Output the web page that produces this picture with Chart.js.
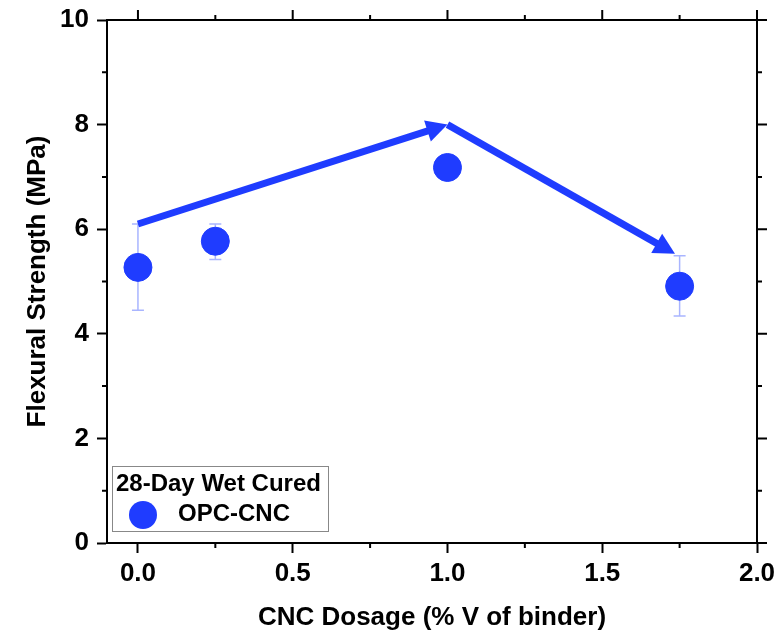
<!DOCTYPE html>
<html>
<head>
<meta charset="utf-8">
<script src="https://cdn.jsdelivr.net/npm/chart.js@4.4.1/dist/chart.umd.min.js"></script>
<style>
  html, body { margin: 0; padding: 0; background: #fff; }
  #wrap { width: 779px; height: 635px; }
</style>
</head>
<body>
<div id="wrap"><canvas id="flex-chart"></canvas></div>
<script>
// data
const dosage = [0, 0.25, 1.0, 1.75];
const strength = [5.27, 5.77, 7.18, 4.91];
const errLow = [4.45, 5.42, 7.10, 4.34];
const errHigh = [6.10, 6.10, 7.26, 5.49];
// trend arrows (start -> peak -> end)
const trendX = [0, 1.0, 1.735];
const trendY = [6.1, 8.0, 5.53];
const xMinor = [0.25, 0.75, 1.25, 1.75];
const yMinor = [1, 3, 5, 7, 9];
const xMajor = [0, 0.5, 1.0, 1.5, 2.0];
const yMajor = [0, 2, 4, 6, 8, 10];

const BLUE = "#1f3cff";
const ERR = "#a9b5ff";
const FONT = "'Liberation Sans', Arial, sans-serif";

// keep the plot area fixed, ignore label overflow
const noPad = (s) => {
  s.paddingTop = 0; s.paddingBottom = 0;
  s.paddingLeft = 0; s.paddingRight = 0;
};

const decor = {
  id: "decor",
  beforeDatasetsDraw(chart) {
    const { ctx, chartArea: a, scales: { x, y } } = chart;
    ctx.save();
    // frame top/right
    ctx.strokeStyle = "#000";
    ctx.lineWidth = 2;
    ctx.beginPath();
    ctx.moveTo(a.left - 1, a.top);
    ctx.lineTo(a.right, a.top);
    ctx.lineTo(a.right, a.bottom + 1);
    ctx.stroke();
    // ticks on top/right, minor ticks everywhere
    ctx.beginPath();
    xMajor.forEach((v) => {
      const px = x.getPixelForValue(v);
      ctx.moveTo(px, a.top); ctx.lineTo(px, a.top - 10);
    });
    yMajor.forEach((v) => {
      const py = y.getPixelForValue(v);
      ctx.moveTo(a.right, py); ctx.lineTo(a.right + 10, py);
    });
    xMinor.forEach((v) => {
      const px = x.getPixelForValue(v);
      ctx.moveTo(px, a.top); ctx.lineTo(px, a.top - 5);
      ctx.moveTo(px, a.bottom); ctx.lineTo(px, a.bottom + 5);
    });
    yMinor.forEach((v) => {
      const py = y.getPixelForValue(v);
      ctx.moveTo(a.left, py); ctx.lineTo(a.left - 5, py);
      ctx.moveTo(a.right, py); ctx.lineTo(a.right + 5, py);
    });
    ctx.stroke();

    // error bars
    ctx.strokeStyle = ERR;
    ctx.lineWidth = 1.5;
    ctx.beginPath();
    dosage.forEach((d, i) => {
      const px = x.getPixelForValue(d);
      const lo = y.getPixelForValue(errLow[i]);
      const hi = y.getPixelForValue(errHigh[i]);
      ctx.moveTo(px, lo); ctx.lineTo(px, hi);
      ctx.moveTo(px - 6, lo); ctx.lineTo(px + 6, lo);
      ctx.moveTo(px - 6, hi); ctx.lineTo(px + 6, hi);
    });
    ctx.stroke();

    // arrows
    ctx.fillStyle = BLUE;
    ctx.strokeStyle = BLUE;
    ctx.lineWidth = 7;
    for (let i = 0; i < trendX.length - 1; i++) {
      const x0 = x.getPixelForValue(trendX[i]), y0 = y.getPixelForValue(trendY[i]);
      const x1 = x.getPixelForValue(trendX[i + 1]), y1 = y.getPixelForValue(trendY[i + 1]);
      const ang = Math.atan2(y1 - y0, x1 - x0);
      const hl = 21, hw = 11;
      const bx = x1 - hl * Math.cos(ang), by = y1 - hl * Math.sin(ang);
      ctx.beginPath();
      ctx.moveTo(x0, y0);
      ctx.lineTo(bx + 2 * Math.cos(ang), by + 2 * Math.sin(ang));
      ctx.stroke();
      ctx.beginPath();
      ctx.moveTo(x1, y1);
      ctx.lineTo(bx - hw * Math.sin(ang), by + hw * Math.cos(ang));
      ctx.lineTo(bx + hw * Math.sin(ang), by - hw * Math.cos(ang));
      ctx.closePath();
      ctx.fill();
    }
    ctx.restore();
  },
  afterDraw(chart) {
    const { ctx, chartArea: a } = chart;
    ctx.save();
    // legend box
    const lx = a.left + 5, ly = a.bottom - 77, lw = 216, lh = 65;
    ctx.fillStyle = "#fff";
    ctx.fillRect(lx, ly, lw, lh);
    ctx.strokeStyle = "#888";
    ctx.lineWidth = 1;
    ctx.strokeRect(lx + 0.5, ly + 0.5, lw, lh);
    ctx.fillStyle = "#000";
    ctx.font = "bold 24px " + FONT;
    ctx.textBaseline = "middle";
    ctx.fillText("28-Day Wet Cured", lx + 4, ly + 18);
    ctx.fillText("OPC-CNC", lx + 66, ly + 48);
    ctx.fillStyle = BLUE;
    ctx.beginPath();
    ctx.arc(lx + 31, ly + 49, 14, 0, Math.PI * 2);
    ctx.fill();
    ctx.restore();
  },
};

new Chart(document.getElementById("flex-chart"), {
  type: "scatter",
  data: {
    datasets: [
      {
        label: "OPC-CNC",
        data: dosage.map((d, i) => ({ x: d, y: strength[i] })),
        backgroundColor: BLUE,
        borderColor: BLUE,
        pointRadius: 14,
        pointHoverRadius: 14,
      },
    ],
  },
  options: {
    responsive: true,
    maintainAspectRatio: false,
    animation: false,
    layout: { padding: { top: 20, right: 22, left: 0, bottom: 0 } },
    plugins: { legend: { display: false }, tooltip: { enabled: false } },
    scales: {
      x: {
        type: "linear",
        min: -0.1,
        max: 2.0,
        afterFit: (s) => { s.height = 92; noPad(s); },
        ticks: {
          stepSize: 0.5,
          includeBounds: false,
          callback: (v) => v.toFixed(1),
          color: "#000",
          font: { family: FONT, size: 26, weight: "bold" },
          padding: 5,
          maxRotation: 0,
        },
        grid: { drawOnChartArea: false, tickLength: 10, tickWidth: 2, tickColor: "#000" },
        border: { width: 2, color: "#000" },
        title: {
          display: true,
          text: "CNC Dosage (% V of binder)",
          color: "#000",
          font: { family: FONT, size: 26, weight: "bold" },
          padding: { top: 0, bottom: 2 },
        },
      },
      y: {
        min: 0,
        max: 10,
        afterFit: (s) => { s.width = 107; noPad(s); },
        ticks: {
          stepSize: 2,
          color: "#000",
          font: { family: FONT, size: 26, weight: "bold" },
          padding: 8,
        },
        grid: { drawOnChartArea: false, tickLength: 10, tickWidth: 2, tickColor: "#000" },
        border: { width: 2, color: "#000" },
        title: {
          display: true,
          text: "Flexural Strength (MPa)",
          color: "#000",
          font: { family: FONT, size: 26, weight: "bold" },
          padding: { top: 22, bottom: 0 },
        },
      },
    },
  },
  plugins: [decor],
});
</script>
</body>
</html>
